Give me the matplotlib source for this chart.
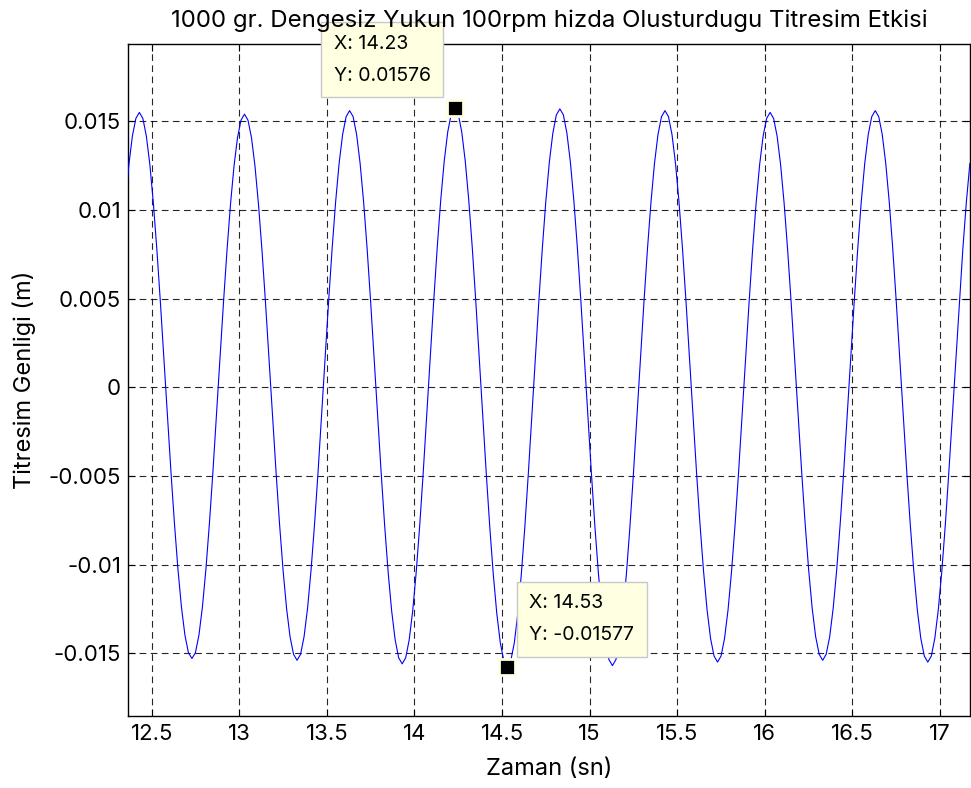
import matplotlib
matplotlib.use('Agg')
import matplotlib.pyplot as plt
import numpy as np

plt.rcParams['font.family'] = ['Inter', 'DejaVu Sans']

# ---- data ----
t_start = 12.35          # time of first sample (s)
t_step = 0.02            # sample spacing (s)
# displacement samples in millimetres
disp_mm = [
    10.37, 12.54, 14.16, 15.16, 15.5, 15.16, 14.16, 12.54, 10.37, 7.75, 4.79, 1.62,
    -1.60, -4.73, -7.65, -10.24, -12.38, -13.98, -14.97, -15.3, -14.97, -13.98, -12.38, -10.24, -7.65, -4.73, -1.60,
    1.61, 4.76, 7.70, 10.30, 12.46, 14.07, 15.06, 15.4, 15.06, 14.07, 12.46, 10.30, 7.70, 4.76, 1.61,
    -1.61, -4.76, -7.70, -10.30, -12.46, -14.07, -15.06, -15.4, -15.06, -14.07, -12.46, -10.30, -7.70, -4.76, -1.61,
    1.63, 4.82, 7.80, 10.44, 12.62, 14.25, 15.26, 15.6, 15.26, 14.25, 12.62, 10.44, 7.80, 4.82, 1.63,
    -1.63, -4.82, -7.80, -10.44, -12.62, -14.25, -15.26, -15.6, -15.26, -14.25, -12.62, -10.44, -7.80, -4.82, -1.63,
    1.65, 4.87, 7.88, 10.55, 12.75, 14.40, 15.41, 15.76, 15.41, 14.40, 12.75, 10.55, 7.88, 4.87, 1.65,
    -1.65, -4.87, -7.89, -10.55, -12.76, -14.41, -15.42, -15.77, -15.42, -14.41, -12.76, -10.55, -7.89, -4.87, -1.65,
    1.64, 4.85, 7.85, 10.50, 12.70, 14.34, 15.36, 15.7, 15.36, 14.34, 12.70, 10.50, 7.85, 4.85, 1.64,
    -1.64, -4.85, -7.85, -10.50, -12.70, -14.34, -15.36, -15.7, -15.36, -14.34, -12.70, -10.50, -7.85, -4.85, -1.64,
    1.63, 4.82, 7.80, 10.44, 12.62, 14.25, 15.26, 15.6, 15.26, 14.25, 12.62, 10.44, 7.80, 4.82, 1.63,
    -1.62, -4.79, -7.75, -10.37, -12.54, -14.16, -15.16, -15.5, -15.16, -14.16, -12.54, -10.37, -7.75, -4.79, -1.62,
    1.62, 4.79, 7.75, 10.37, 12.54, 14.16, 15.16, 15.5, 15.16, 14.16, 12.54, 10.37, 7.75, 4.79, 1.62,
    -1.61, -4.76, -7.70, -10.30, -12.46, -14.07, -15.06, -15.4, -15.06, -14.07, -12.46, -10.30, -7.70, -4.76, -1.61,
    1.63, 4.82, 7.80, 10.44, 12.62, 14.25, 15.26, 15.6, 15.26, 14.25, 12.62, 10.44, 7.80, 4.82, 1.63,
    -1.62, -4.79, -7.75, -10.37, -12.54, -14.16, -15.16, -15.5, -15.16, -14.16, -12.54, -10.37, -7.75, -4.79, -1.62,
    1.63, 4.82, 7.80, 10.44, 12.62,
]

x_ticks = [12.5, 13, 13.5, 14, 14.5, 15, 15.5, 16, 16.5, 17]
x_tick_labels = ['12.5', '13', '13.5', '14', '14.5', '15', '15.5', '16', '16.5', '17']
y_ticks = [-0.015, -0.01, -0.005, 0, 0.005, 0.01, 0.015]
y_tick_labels = ['-0.015', '-0.01', '-0.005', '0', '0.005', '0.01', '0.015']

tip_x = [14.23, 14.53]
tip_y = [0.01576, -0.01577]
tip_labels = ['X: 14.23\nY: 0.01576', 'X: 14.53\nY: -0.01577']

title = '1000 gr. Dengesiz Yukun 100rpm hizda Olusturdugu Titresim Etkisi'
x_label = 'Zaman (sn)'
y_label = 'Titresim Genligi (m)'

# ---- plot ----
t = t_start + t_step * np.arange(len(disp_mm))
y = np.array(disp_mm) * 1e-3

fig = plt.figure(figsize=(9.71, 7.88), dpi=100)
ax = fig.add_axes([0.1318, 0.0914, 0.8672, 0.8528])

ax.plot(t, y, color='#0000FF', lw=0.8, zorder=3)

ax.set_xlim(12.365, 17.171)
ax.set_ylim(-0.01854, 0.01936)
ax.set_xticks(x_ticks)
ax.set_xticklabels(x_tick_labels)
ax.set_yticks(y_ticks)
ax.set_yticklabels(y_tick_labels)

ax.grid(True, color='black', linestyle=(0, (6, 4)), linewidth=0.8, alpha=0.85)
ax.set_axisbelow(True)
ax.tick_params(direction='in', top=True, right=True, length=5, width=0.8,
               labelsize=16, colors='black')
ax.tick_params(axis='x', pad=6)
ax.tick_params(axis='y', pad=5)
for s in ax.spines.values():
    s.set_linewidth(1.0)
    s.set_color('black')

ax.set_title(title, fontsize=17.3, pad=12.5)
ax.title.set_zorder(10)
ax.set_xlabel(x_label, fontsize=17, labelpad=10)
ax.set_ylabel(y_label, fontsize=17, labelpad=9)

# data tips
ax.plot(tip_x, tip_y, linestyle='none', marker='s', markersize=11,
        markerfacecolor='black', markeredgecolor='#FFFFE1', markeredgewidth=2,
        zorder=5, clip_on=False)

box = dict(boxstyle='square,pad=0.64', facecolor='#FFFFE1', edgecolor='#C8C8C8', lw=1)
ax.annotate(tip_labels[0], xy=(tip_x[0], tip_y[0]), xytext=(-17.3, 16.6),
            textcoords='offset points', ha='right', va='bottom', fontsize=14,
            multialignment='left', linespacing=2.0, bbox=box, zorder=6,
            annotation_clip=False)
ax.annotate(tip_labels[1], xy=(tip_x[1], tip_y[1]), xytext=(15.9, 16.2),
            textcoords='offset points', ha='left', va='bottom', fontsize=14,
            multialignment='left', linespacing=2.0, bbox=box, zorder=6,
            annotation_clip=False)

fig.savefig('out.png', dpi=100)
